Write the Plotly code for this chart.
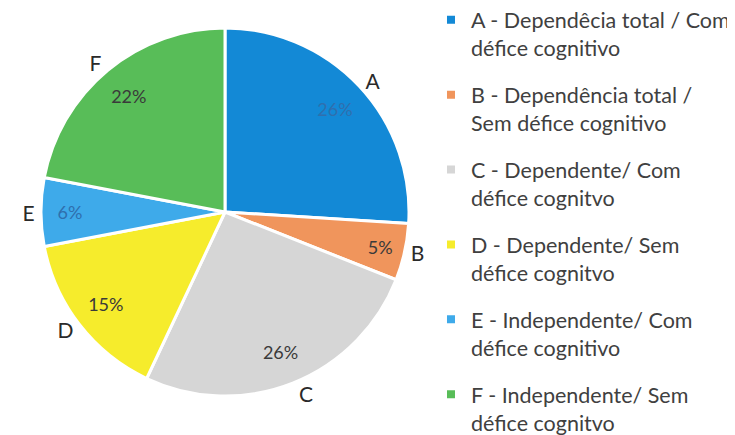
import plotly.graph_objects as go

letters = ["A", "B", "C", "D", "E", "F"]
legend_labels = [
    "A - Dependêcia total / Com<br>défice cognitivo",
    "B - Dependência total /<br>Sem défice cognitivo",
    "C - Dependente/ Com<br>défice cognitvo",
    "D - Dependente/ Sem<br>défice cognitvo",
    "E - Independente/ Com<br>défice cognitivo",
    "F - Independente/ Sem<br>défice cognitvo",
]
values = [26, 5, 26, 15, 6, 22]
colors = ["#1389d6", "#f0955c", "#d6d6d6", "#f6ec2c", "#3eaaea", "#58bd58"]
pct_colors = ["#2f6fae", "#3a3a3a", "#3a3a3a", "#3a3a3a", "#2f6fae", "#3a3a3a"]

W, H = 735, 435
cx, cy, r = 217, 204, 184
dom_x = [(cx - r) / W, (cx + r) / W]
dom_y = [1 - (cy + r) / H, 1 - (cy - r) / H]

fig = go.Figure()
fig.add_trace(go.Pie(
    labels=letters, values=values, text=letters,
    texttemplate="%{text}", textposition="outside",
    textfont=dict(family="Lato", size=21, color="#2a2a2a"),
    marker=dict(colors=colors, line=dict(color="white", width=3)),
    sort=False, direction="clockwise", rotation=0, showlegend=False,
    domain=dict(x=dom_x, y=dom_y), hoverinfo="label+percent",
))
fig.add_trace(go.Pie(
    labels=letters, values=values, hole=0.64,
    texttemplate="%{percent:.0%}", textposition="inside",
    insidetextorientation="horizontal",
    textfont=dict(family="Lato", size=18, color=pct_colors),
    marker=dict(colors=["rgba(0,0,0,0)"] * 6, line=dict(width=0)),
    sort=False, direction="clockwise", rotation=0, showlegend=False,
    domain=dict(x=dom_x, y=dom_y), hoverinfo="skip",
))
# legend entries (one per slice, same labels and colours as the pie)
for i, (lab, col) in enumerate(zip(legend_labels, colors)):
    fig.add_trace(go.Scatter(
        x=[None], y=[None], mode="markers", name=lab,
        marker=dict(symbol="square", size=8, color=col),
        legendgroup=letters[i], showlegend=True, hoverinfo="skip",
    ))

fig.update_layout(
    width=W, height=H,
    margin=dict(l=0, r=0, t=0, b=0, autoexpand=False),
    paper_bgcolor="white", plot_bgcolor="white",
    xaxis=dict(visible=False), yaxis=dict(visible=False),
    legend=dict(x=0.5755, y=1.02, xanchor="left", yanchor="top",
                font=dict(family="Lato", size=21.5, color="#404040"),
                bgcolor="rgba(0,0,0,0)", itemwidth=30, valign="top",
                tracegroupgap=16, traceorder="grouped", maxheight=1000),
)
fig.write_html("out.html")
